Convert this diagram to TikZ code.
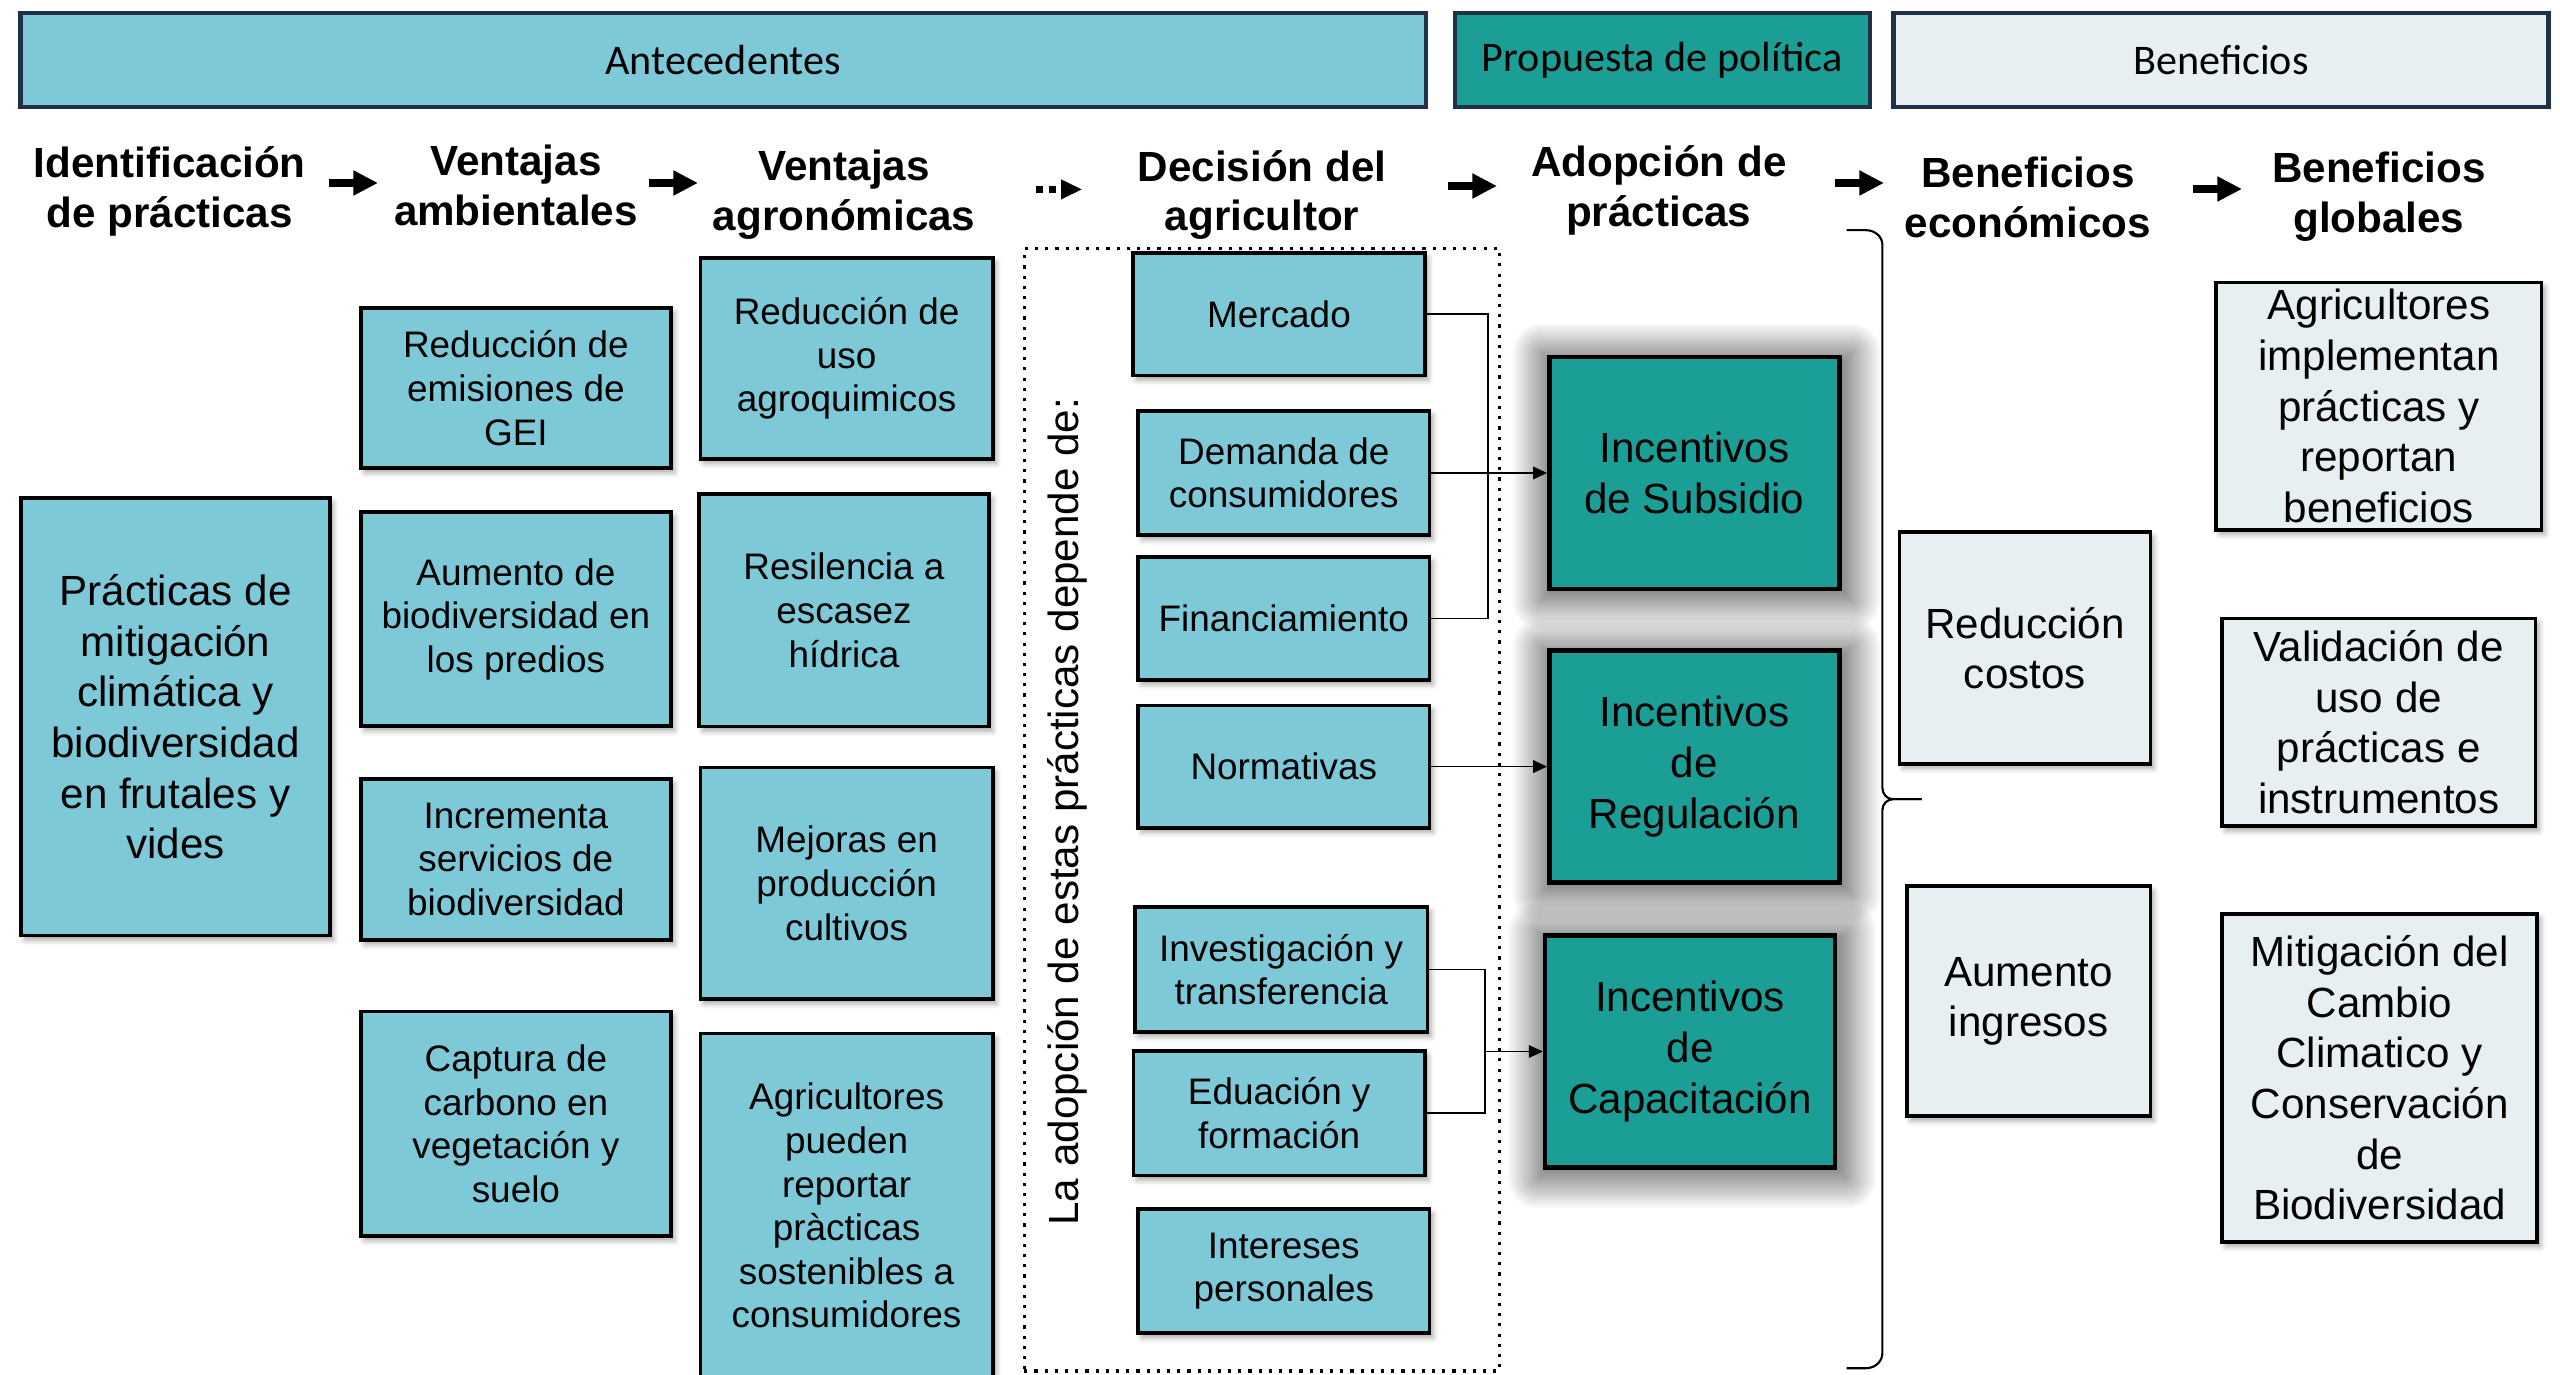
\documentclass[tikz,border=0pt]{standalone}
\usepackage{fontspec}
\setmainfont{Liberation Sans}
\newfontfamily\barfont{Carlito}
\usepackage{tikz}
\usetikzlibrary{positioning,arrows.meta,calc,shadows.blur}

\definecolor{celeste}{HTML}{7EC9D8}
\definecolor{verdeazul}{HTML}{1A9E96}
\definecolor{grisazul}{HTML}{E8EFF2}
\definecolor{marino}{HTML}{1F3147}

\tikzset{
    >={Triangle[length=4pt,width=3.6pt]},
    bar/.style = {
        draw=marino,
        shape=rectangle,
        line width=1.2pt,
        minimum height=0.94cm,
        inner sep=0pt,
        font=\barfont\fontsize{12}{14}\selectfont
    },
    head/.style = {
        align=center,
        inner sep=0pt,
        font=\bfseries\fontsize{12}{14.2}\selectfont
    },
    block/.style = {
        draw,
        shape=rectangle,
        fill=celeste,
        line width=1pt,
        align=center,
        inner sep=1pt,
        font=\fontsize{10.5}{12.4}\selectfont,
        blur shadow={shadow xshift=1pt, shadow yshift=-1.3pt,
            shadow blur radius=1.5pt, shadow opacity=35}
    },
    bigblock/.style = {
        block,
        font=\fontsize{12}{14.4}\selectfont
    },
    incentive/.style = {
        bigblock,
        fill=verdeazul,
        line width=1.3pt,
        blur shadow={shadow xshift=0.6pt, shadow yshift=-1pt,
            shadow blur radius=8pt, shadow blur steps=30, shadow scale=1.07,
            shadow opacity=38}
    },
    benefit/.style = {
        bigblock,
        fill=grisazul
    },
    frame/.style = {
        draw,
        dotted,
        line width=0.9pt,
        shape=rectangle
    },
    bigarrow/.style = {
        line width=2.4pt,
        -{Triangle[length=7pt,width=6.7pt]}
    },
    link/.style = {
        line width=0.5pt
    },
}

\begin{document}
\begin{tikzpicture}
    \useasboundingbox (0,0) rectangle (25.6,-13.75);

    % bands
    \node[bar, fill=celeste, minimum width=14.05cm] (ante) at (7.231,-0.603) {Antecedentes};
    \node[bar, fill=verdeazul, minimum width=4.15cm] (prop) at (16.621,-0.603) {Propuesta de política};
    \node[bar, fill=grisazul, minimum width=6.55cm] (bene) at (22.21,-0.603) {Beneficios};

    % headings
    \node[head] (hId) at (1.698,-1.91) {Identificación\\de prácticas};
    \node[head] (hAmb) at (5.159,-1.85) {Ventajas\\ambientales};
    \node[head] (hAgr) at (8.441,-1.95) {Ventajas\\agronómicas};
    \node[head] (hDec) at (12.621,-1.95) {Decisión del\\agricultor};
    \node[head] (hAdo) at (16.588,-1.9) {Adopción de\\prácticas};
    \node[head] (hEco) at (20.278,-1.97) {Beneficios\\económicos};
    \node[head] (hGlo) at (23.788,-1.97) {Beneficios\\globales};

    \foreach \n/\x/\y in {1/3.29/-1.83, 2/6.49/-1.83, 4/14.48/-1.86, 5/18.35/-1.83, 6/21.93/-1.89}
        { \coordinate (f\n) at (\x,\y); \path[draw, bigarrow] (f\n) -- ++(0.49,0); }
    \coordinate (f3) at (10.363,-1.894);
    \path[draw, line width=2.2pt, dash pattern=on 2pt off 1.6pt,
        -{Triangle[length=6pt,width=5.2pt]}] (f3) -- ++(0.46,0);

    % antecedentes
    \node[bigblock, minimum width=3.086cm, minimum height=4.376cm] (pMit) at (1.755,-7.168)
        {Prácticas de\\mitigación\\climática y\\biodiversidad\\en frutales y\\vides};

    \node[block, minimum width=3.102cm, minimum height=1.597cm] (aGei) at (5.159,-3.881) {Reducción de\\emisiones de\\GEI};
    \node[block, minimum width=3.102cm, minimum height=2.14cm] (aBio) at (5.159,-6.191) {Aumento de\\biodiversidad en\\los predios};
    \node[block, minimum width=3.102cm, minimum height=1.611cm] (aSer) at (5.159,-8.594) {Incrementa\\servicios de\\biodiversidad};
    \node[block, minimum width=3.102cm, minimum height=2.243cm] (aCar) at (5.159,-11.238) {Captura de\\carbono en\\vegetación y\\suelo};

    \node[block, minimum width=2.923cm, minimum height=2.008cm] (gAgq) at (8.466,-3.584) {Reducción de\\uso\\agroquimicos};
    \node[block, minimum width=2.9cm, minimum height=2.325cm] (gRes) at (8.44,-6.103) {Resilencia a\\escasez\\hídrica};
    \node[block, minimum width=2.923cm, minimum height=2.318cm] (gMej) at (8.466,-8.833) {Mejoras en\\producción\\cultivos};
    \node[block, minimum width=2.923cm, minimum height=3.445cm] (gRep) at (8.466,-12.057)
        {Agricultores\\pueden\\reportar\\pràcticas\\sostenibles a\\consumidores};

    % decision del agricultor
    \node[frame, minimum width=4.753cm, minimum height=11.222cm] (marco) at (12.619,-8.099) {};
    \node[rotate=90, font=\fontsize{12}{14}\selectfont, inner sep=0pt] (depende) at (10.673,-8.116)
        {La adopción de estas prácticas depende de:};

    \node[block, minimum width=2.918cm, minimum height=1.225cm] (dMer) at (12.79,-3.143) {Mercado};
    \node[block, minimum width=2.914cm, minimum height=1.242cm] (dDem) at (12.838,-4.73) {Demanda de\\consumidores};
    \node[block, minimum width=2.914cm, minimum height=1.233cm] (dFin) at (12.838,-6.185) {Financiamiento};
    \node[block, minimum width=2.914cm, minimum height=1.225cm] (dNor) at (12.838,-7.666) {Normativas};
    \node[block, minimum width=2.929cm, minimum height=1.249cm] (dInv) at (12.812,-9.695) {Investigación y\\transferencia};
    \node[block, minimum width=2.914cm, minimum height=1.246cm] (dEdu) at (12.792,-11.133) {Eduación y\\formación};
    \node[block, minimum width=2.914cm, minimum height=1.239cm] (dInt) at (12.838,-12.71) {Intereses\\personales};

    % incentivos
    \node[incentive, minimum width=2.898cm, minimum height=2.318cm] (iSub) at (16.943,-4.73) {Incentivos\\de Subsidio};
    \node[incentive, minimum width=2.898cm, minimum height=2.318cm] (iReg) at (16.943,-7.666) {Incentivos\\de\\Regulación};
    \node[incentive, minimum width=2.898cm, minimum height=2.318cm] (iCap) at (16.9,-10.515) {Incentivos\\de\\Capacitación};

    \coordinate (jSub) at (14.88,-4.73);
    \coordinate (jCap) at (14.851,-10.515);
    \path[draw, link] (dMer.east) -| (jSub) |- (dFin.east);
    \path[draw, link, ->] (dDem.east) -- (iSub.west);
    \path[draw, link, ->] (dNor.east) -- (iReg.west);
    \path[draw, link] (dInv.east) -| (jCap) |- (dEdu.east);
    \path[draw, link, ->] (jCap) -- (iCap.west);

    % llave
    \path[draw, line width=0.6pt] (18.466,-2.302) -- (18.66,-2.302) to[out=0,in=90] (18.824,-2.45)
        -- (18.824,-7.88) to[out=-90,in=180] (18.93,-7.992) -- (19.216,-7.992);
    \path[draw, line width=0.6pt] (19.216,-7.992) -- (18.93,-7.992) to[out=180,in=90] (18.824,-8.1)
        -- (18.824,-13.53) to[out=-90,in=0] (18.66,-13.682) -- (18.466,-13.682);

    % beneficios
    \node[benefit, minimum width=2.508cm, minimum height=2.315cm] (eCos) at (20.249,-6.48) {Reducción\\costos};
    \node[benefit, minimum width=2.433cm, minimum height=2.3cm] (eIng) at (20.286,-10.012) {Aumento\\ingresos};

    \node[benefit, minimum width=3.256cm, minimum height=2.474cm, inner sep=0pt] (bAgr) at (23.788,-4.061)
        {Agricultores\\implementan\\prácticas y\\reportan\\beneficios};
    \node[benefit, minimum width=3.138cm, minimum height=2.078cm, inner sep=0pt] (bVal) at (23.787,-7.223)
        {Validación de\\uso de\\prácticas e\\instrumentos};
    \node[benefit, minimum width=3.151cm, minimum height=3.283cm, inner sep=0pt] (bMit) at (23.796,-10.779)
        {Mitigación del\\Cambio\\Climatico y\\Conservación\\de\\Biodiversidad};
\end{tikzpicture}
\end{document}
